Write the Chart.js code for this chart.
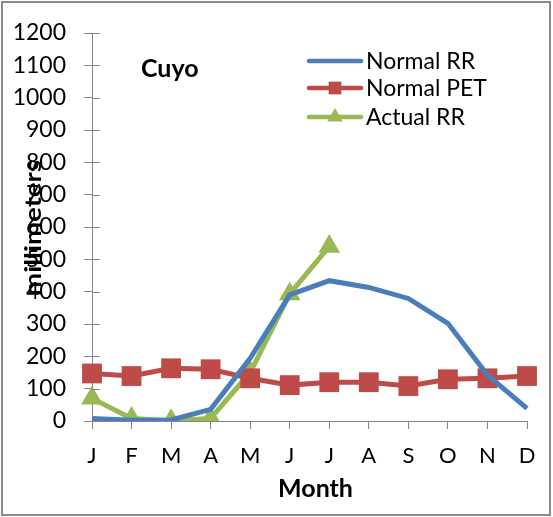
<!DOCTYPE html>
<html>
<head>
<meta charset="utf-8">
<script src="https://cdn.jsdelivr.net/npm/chart.js@4/dist/chart.umd.min.js"></script>
<style>
  html, body { margin: 0; padding: 0; background: #fff; }
  #wrap { width: 553px; height: 517px; position: relative; }
</style>
</head>
<body>
<div id="wrap"><canvas id="chartCanvas" width="553" height="517"></canvas></div>
<script>
// Data
const months = ['J', 'F', 'M', 'A', 'M', 'J', 'J', 'A', 'S', 'O', 'N', 'D'];
const normalRR = [8, 2, 3, 36, 194, 390, 434, 413, 379, 302, 142, 39];
const normalPET = [147, 139, 163, 160, 132, 111, 120, 120, 108, 129, 132, 139];
const actualRR = [70, 8, 1, 8, 150, 393, 540, null, null, null, null, null];
const yTicksMax = 1200;
const yStep = 100;

const FONT = "Lato, 'Open Sans', sans-serif";
const AXIS = '#868686';
const BLUE = '#4A7EBB', RED = '#BE4B48', GREEN = '#98B954';

Chart.defaults.font.family = FONT;
Chart.defaults.color = '#000';

// frame, inner tick halves, titles and legend
const extras = {
  id: 'extras',
  afterDraw(chart) {
    const ctx = chart.ctx;
    const y = chart.scales.y;
    const x = chart.scales.x;
    ctx.save();
    // inside halves of the y ticks
    ctx.strokeStyle = AXIS;
    ctx.lineWidth = 1;
    y.ticks.forEach((t, i) => {
      const py = Math.round(y.getPixelForTick(i)) + 0.5;
      ctx.beginPath();
      ctx.moveTo(y.right, py);
      ctx.lineTo(y.right + 8, py);
      ctx.stroke();
    });

    // y axis title (overlaps the tick labels like the original)
    ctx.fillStyle = '#000';
    ctx.font = "bold 23px " + FONT;
    ctx.textAlign = 'center';
    ctx.textBaseline = 'middle';
    ctx.translate(34, (y.top + y.bottom) / 2 + 1);
    ctx.rotate(-Math.PI / 2);
    ctx.scale(1.2, 1);
    ctx.fillText('millimeters', 0, 0);
    ctx.setTransform(1, 0, 0, 1, 0, 0);

    // x axis title
    ctx.font = "bold 25px " + FONT;
    ctx.textBaseline = 'alphabetic';
    ctx.fillText('Month', (x.left + x.right) / 2 + 6, 497);

    // chart title inside the plot
    ctx.textBaseline = 'middle';
    ctx.font = "bold 25px " + FONT;
    ctx.textAlign = 'left';
    ctx.fillText('Cuyo', 141, 69);

    // legend
    const items = [
      { label: 'Normal RR', color: BLUE, style: null },
      { label: 'Normal PET', color: RED, style: 'rect' },
      { label: 'Actual RR', color: GREEN, style: 'triangle' }
    ];
    const rows = [61, 88, 117];
    ctx.font = "23px " + FONT;
    items.forEach((it, i) => {
      const ry = rows[i];
      ctx.strokeStyle = it.color;
      ctx.lineWidth = 4.5;
      ctx.lineCap = 'round';
      ctx.beginPath();
      ctx.moveTo(309, ry);
      ctx.lineTo(361, ry);
      ctx.stroke();
      if (it.style) {
        ctx.fillStyle = it.color;
        Chart.helpers.drawPoint(ctx, { pointStyle: it.style, radius: 9, borderWidth: 0 }, 335, ry);
      }
      ctx.fillStyle = '#000';
      ctx.fillText(it.label, 366, ry + 1);
    });

    // outer frame
    ctx.strokeStyle = '#8a8a8a';
    ctx.lineWidth = 2;
    ctx.strokeRect(2, 2, 548, 513);
    ctx.restore();
  }
};

new Chart(document.getElementById('chartCanvas').getContext('2d'), {
  type: 'line',
  data: {
    labels: months,
    datasets: [
      {
        label: 'Normal RR',
        data: normalRR,
        borderColor: BLUE,
        backgroundColor: BLUE,
        borderWidth: 5,
        pointRadius: 0,
        tension: 0
      },
      {
        label: 'Normal PET',
        data: normalPET,
        borderColor: RED,
        backgroundColor: RED,
        borderWidth: 5,
        pointStyle: 'rect',
        pointRadius: 14,
        pointBorderWidth: 0,
        tension: 0
      },
      {
        label: 'Actual RR',
        data: actualRR,
        borderColor: GREEN,
        backgroundColor: GREEN,
        borderWidth: 5,
        pointStyle: 'triangle',
        pointRadius: 12.5,
        pointBorderWidth: 0,
        spanGaps: false,
        tension: 0
      }
    ]
  },
  options: {
    responsive: false,
    animation: false,
    layout: { padding: { top: 33, right: 26, left: 0, bottom: 0 } },
    plugins: {
      legend: { display: false },
      tooltip: { enabled: false }
    },
    scales: {
      x: {
        offset: false,
        grid: { display: true, drawOnChartArea: false, tickLength: 8, color: AXIS, offset: false },
        border: { display: true, color: AXIS, width: 1 },
        ticks: { font: { size: 22 }, padding: 14, maxRotation: 0, autoSkip: false },
        title: { display: false },
        afterFit(s) { s.height = 96; }
      },
      y: {
        min: 0,
        max: yTicksMax,
        ticks: { stepSize: yStep, font: { size: 23 }, padding: 18, callback: v => String(v) },
        grid: { display: true, drawOnChartArea: false, tickLength: 8, color: AXIS },
        border: { display: true, color: AXIS, width: 1 },
        afterFit(s) { s.width = 92; }
      }
    }
  },
  plugins: [extras]
});
</script>
</body>
</html>
